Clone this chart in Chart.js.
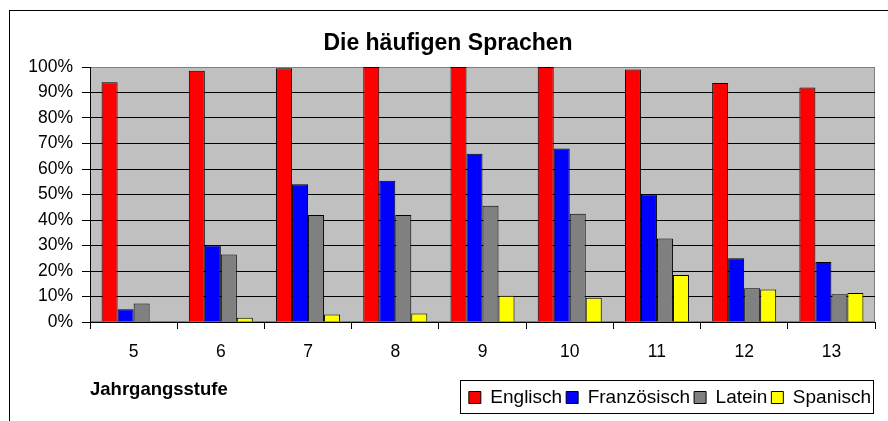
<!DOCTYPE html>
<html><head><meta charset="utf-8">
<script src="https://cdn.jsdelivr.net/npm/chart.js@4/dist/chart.umd.min.js"></script>
<style>html,body{margin:0;padding:0;background:#fff}canvas{display:block}</style>
</head><body>
<canvas id="c" width="888" height="421"></canvas>
<script>
const categories = ['5', '6', '7', '8', '9', '10', '11', '12', '13'];
const englisch    = [94, 98.5, 99.5, 100, 100, 100, 99, 93.7, 92];
const franzoesisch = [5, 30, 54, 55.4, 66, 68, 50, 25, 23.5];
const latein      = [7.3, 26.5, 42, 42, 45.6, 42.5, 32.7, 13.2, 10.9];
const spanisch    = [0, 1.7, 2.9, 3.3, 10.3, 9.5, 18.4, 12.7, 11.4];
const seriesNames = ['Englisch', 'Französisch', 'Latein', 'Spanisch'];
const seriesColors = ['#FF0000', '#0000FF', '#808080', '#FFFF00'];
const chartTitle = 'Die häufigen Sprachen';
const xAxisTitle = 'Jahrgangsstufe';

const FONT = "'Liberation Sans', Arial, sans-serif";

const framePlugin = {
  id: 'frame',
  beforeDraw(chart) {
    const ctx = chart.ctx, a = chart.chartArea;
    ctx.save();
    ctx.fillStyle = '#fff';
    ctx.fillRect(0, 0, chart.width, chart.height);
    ctx.strokeStyle = '#000';
    ctx.lineWidth = 1;
    ctx.strokeRect(9.5, 10.5, 1000, 1000);
    ctx.fillStyle = '#C0C0C0';
    ctx.fillRect(a.left, a.top, a.right - a.left, a.bottom - a.top);
    ctx.strokeStyle = '#808080';
    ctx.strokeRect(a.left + 0.5, a.top + 0.5, a.right - a.left - 1, a.bottom - a.top - 1);
    ctx.restore();
  },
  afterDraw(chart) {
    const lg = chart.legend;
    if (!lg || !lg.legendHitBoxes || !lg.legendHitBoxes.length) return;
    const hb = lg.legendHitBoxes[0];
    const left = Math.round(hb.left - 9) + 0.5;
    const right = Math.round(lg.right) - 1.5;
    const top = Math.round(hb.top - 8) + 0.5;
    const bottom = top + 33;
    const ctx = chart.ctx;
    ctx.save();
    ctx.strokeStyle = '#000';
    ctx.lineWidth = 1;
    ctx.strokeRect(left, top, right - left, bottom - top);
    ctx.restore();
  }
};

const seriesData = [englisch, franzoesisch, latein, spanisch];

new Chart(document.getElementById('c'), {
  type: 'bar',
  data: {
    labels: categories,
    datasets: seriesNames.map((n, i) => ({
      label: n,
      data: seriesData[i],
      backgroundColor: seriesColors[i],
      borderColor: '#000',
      borderWidth: 1,
      categoryPercentage: 0.734,
      barPercentage: 1.0
    }))
  },
  options: {
    responsive: false,
    animation: false,
    devicePixelRatio: 1,
    layout: { padding: { left: 21, right: 13, top: 11, bottom: 4 } },
    plugins: {
      title: {
        display: true,
        text: chartTitle,
        color: '#000',
        font: { family: FONT, size: 23, weight: 'bold' },
        padding: { top: 18.7, bottom: 9.7 }
      },
      legend: {
        display: true,
        position: 'bottom',
        align: 'end',
        labels: {
          color: '#000',
          font: { family: FONT, size: 19 },
          boxWidth: 12,
          boxHeight: 12,
          padding: 4
        }
      },
      tooltip: { enabled: false }
    },
    scales: {
      x: {
        grid: { display: true, drawOnChartArea: false, drawTicks: true, tickLength: 7, color: '#000' },
        border: { display: true, color: '#000' },
        ticks: { color: '#000', font: { family: FONT, size: 17.5 }, padding: 12.5, maxRotation: 0 },
        title: {
          display: true, text: xAxisTitle, align: 'start', color: '#000',
          font: { family: FONT, size: 18.5, weight: 'bold' },
          padding: { top: 0, bottom: -17.5 }
        },
        afterFit(scale) { scale.height = 62; }
      },
      y: {
        min: 0, max: 100,
        grid: {
          color: (c) => (c.tick && c.tick.value === 100) ? '#808080' : '#000',
          tickColor: '#000',
          tickLength: 8
        },
        border: { display: true, color: '#000' },
        ticks: {
          stepSize: 10,
          color: '#000',
          font: { family: FONT, size: 17.5 },
          padding: 9,
          callback: (v) => v + '%'
        },
        afterFit(scale) { scale.width = 69; }
      }
    }
  },
  plugins: [framePlugin]
});
</script>
</body></html>
